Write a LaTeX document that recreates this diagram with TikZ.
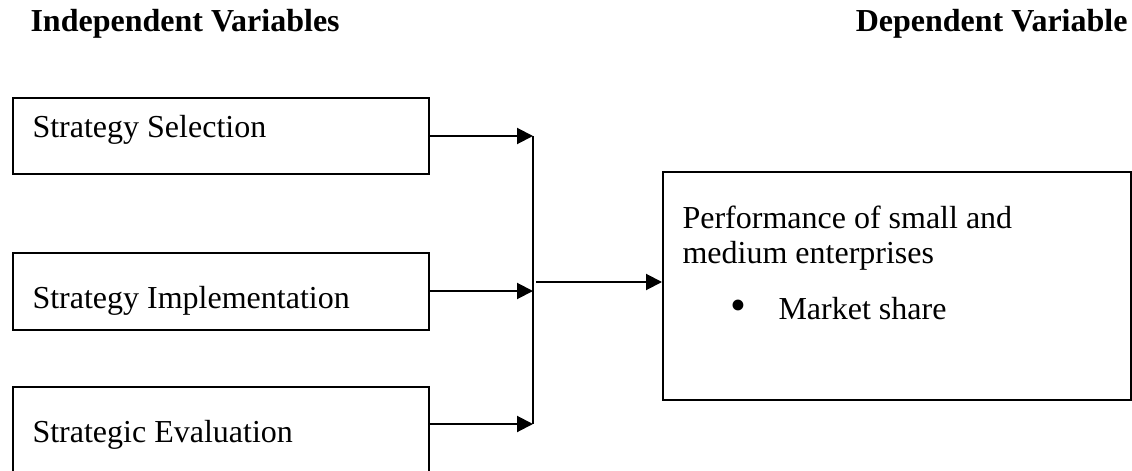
\documentclass[tikz,border=0pt]{standalone}
\usepackage{fontspec}
\setmainfont{Liberation Serif}
\usetikzlibrary{arrows.meta}
\begin{document}
\begin{tikzpicture}[x=0.375pt,y=-0.375pt,
  box/.style={draw=black,line width=0.75pt,rectangle,inner sep=0pt,anchor=north west},
  lbl/.style={inner sep=0pt,anchor=base west,font=\fontsize{12pt}{14pt}\selectfont},
  head/.style={inner sep=0pt,anchor=base west,font=\fontsize{12pt}{14pt}\selectfont\bfseries},
  conn/.style={line width=0.75pt},
  arr/.style={line width=0.75pt,-{Triangle[length=6pt,width=6pt]}}]
\useasboundingbox (0,0) rectangle (1132,470);
\clip (0,0) rectangle (1132,470);
% headings
\node[head] (hind) at (30,32) {Independent Variables};
\node[head,anchor=base east] (hdep) at (1128,32) {Dependent Variable};
% boxes
\node[box,minimum width=416*0.375pt,minimum height=76*0.375pt] (s1) at (12,97) {};
\node[box,minimum width=416*0.375pt,minimum height=77*0.375pt] (s2) at (12,252) {};
\node[box,minimum width=416*0.375pt,minimum height=86*0.375pt] (s3) at (12,386) {};
\node[box,minimum width=468*0.375pt,minimum height=228*0.375pt] (perf) at (662,171) {};
% box texts
\node[lbl] (t1) at (32,138) {Strategy Selection};
\node[lbl] (t2) at (32,308) {Strategy Implementation};
\node[lbl] (t3) at (32,442) {Strategic Evaluation};
\node[lbl] (p1) at (682,228) {Performance of small and};
\node[lbl] (p2) at (682,264) {medium enterprises};
\node[lbl,anchor=base,font=\fontsize{17pt}{17pt}\selectfont] (pb) at (738,320) {•};
\node[lbl] (p3) at (778,319) {Market share};
% junction coordinates
\coordinate (j1) at (533,136);
\coordinate (j2) at (533,291);
\coordinate (j3) at (533,424);
\coordinate (m) at (536,282);
% connectors
\draw[arr] (s1.east |- j1) -- (j1);
\draw[arr] (s2.east |- j2) -- (j2);
\draw[arr] (s3.east |- j3) -- (j3);
\draw[conn] (j1) -- (j3);
\draw[arr] (m) -- (perf.west |- m);
\end{tikzpicture}
\end{document}
